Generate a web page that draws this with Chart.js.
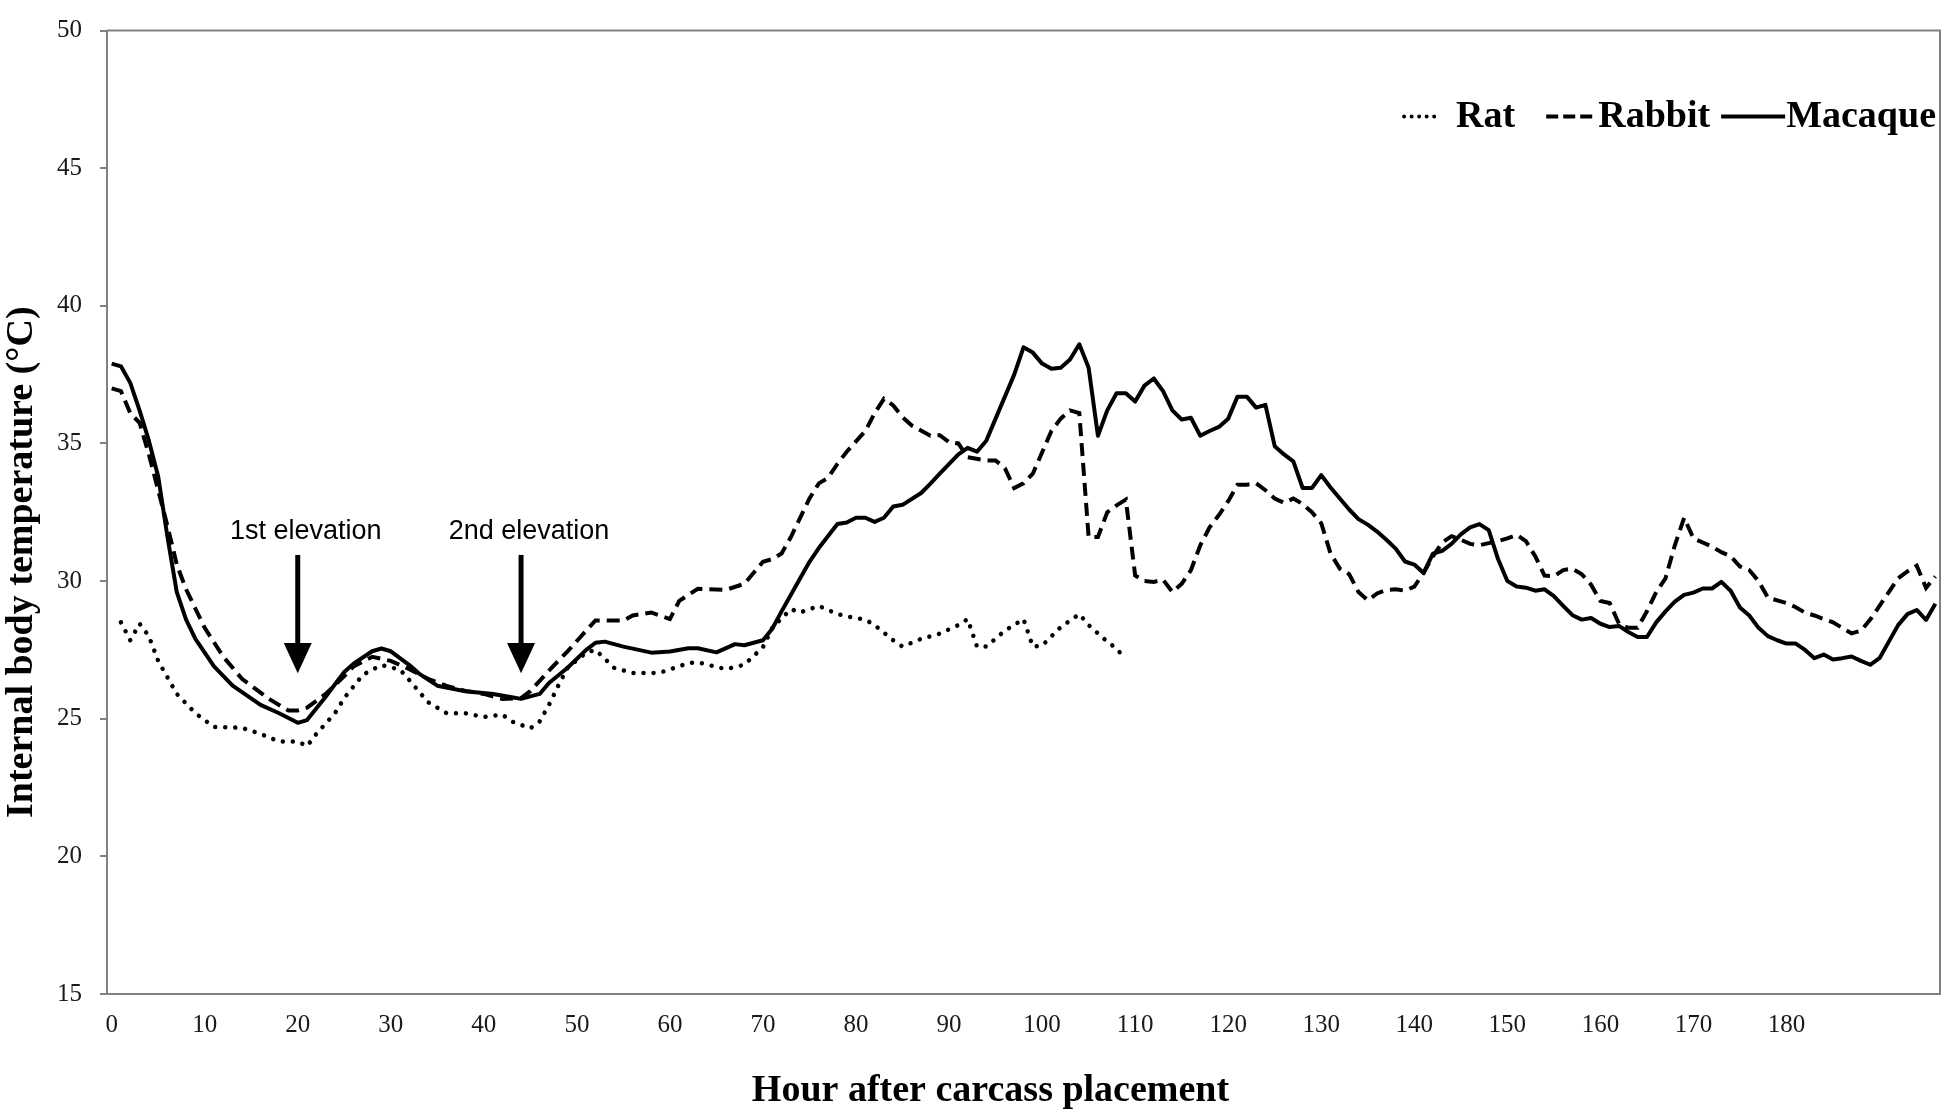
<!DOCTYPE html>
<html>
<head>
<meta charset="utf-8">
<title>Internal body temperature</title>
<script src="https://cdn.jsdelivr.net/npm/chart.js@4.4.1/dist/chart.umd.min.js"></script>
<style>
    html, body { margin: 0; padding: 0; background: #fff; }
    #wrap { width: 1946px; height: 1114px; }
</style>
</head>
<body>
<div id="wrap"><canvas id="temp-chart" width="1946" height="1114"></canvas></div>
<script>
'use strict';

// hours after carcass placement / internal temperature (°C)
const ratHours = [1, 2, 3, 4, 5, 6, 7, 9, 11, 14, 16, 18, 20, 21, 22, 24, 25,
    27, 29, 31, 32, 34, 36, 38, 40, 42, 43, 45, 46, 47, 48, 49, 51, 52, 54, 56, 58,
    59, 62, 63, 66, 68, 70, 71, 73, 74, 76, 78, 79, 81, 82, 84, 85, 87, 89, 91, 92,
    93, 94, 96, 98, 99, 100, 102, 104, 105, 107, 108, 109];
const ratTemps = [28.5, 27.85, 28.45, 28.0, 27.1, 26.5, 25.9, 25.2, 24.7, 24.67, 24.45, 24.17, 24.17, 24.0, 24.45, 25.2, 25.75,
    26.6, 26.95, 26.78, 26.4, 25.6, 25.2, 25.2, 25.06, 25.15, 24.9, 24.65, 24.9, 25.5, 26.2, 26.85, 27.4, 27.5, 26.85, 26.66, 26.66,
    26.68, 27.02, 27.05, 26.8, 26.96, 27.6, 28.3, 28.98, 28.86, 29.1, 28.8, 28.72, 28.6, 28.4, 27.85, 27.62, 27.9, 28.09, 28.4, 28.62,
    27.62, 27.62, 28.2, 28.62, 27.62, 27.65, 28.33, 28.8, 28.4, 27.8, 27.55, 27.14];

const rabbitHours = [0, 1, 2, 3, 4, 5, 6, 7, 8, 10, 12, 14, 17, 19, 20, 21, 23, 25, 26, 28,
    30, 32, 34, 36, 38, 40, 42, 44, 45, 47, 49, 51, 52, 55, 56, 58, 60, 61, 63, 66,
    68, 70, 71, 72, 73, 75, 76, 77, 78, 79, 81, 82, 83, 84, 85, 86, 88, 89, 90, 91,
    92, 94, 95, 96, 97, 98, 99, 101, 102, 103, 104, 105, 106, 107, 108, 109, 110, 111, 112, 113,
    114, 115, 116, 117, 118, 119, 120, 121, 122, 123, 124, 125, 126, 127, 128, 129, 130, 131, 132, 133,
    134, 135, 136, 137, 138, 139, 140, 141, 142, 143, 144, 145, 146, 147, 148, 149, 150, 151, 152, 153,
    154, 155, 156, 157, 158, 159, 160, 161, 162, 163, 164, 165, 166, 167, 168, 169, 170, 171, 172, 173,
    174, 175, 176, 177, 178, 179, 180, 181, 182, 183, 184, 185, 186, 187, 188, 189, 190, 191, 192, 193,
    194, 195, 196];
const rabbitTemps = [37.0, 36.9, 36.1, 35.75, 34.6, 33.3, 32.0, 30.6, 29.7, 28.3, 27.25, 26.45, 25.7, 25.3, 25.3, 25.4, 25.9, 26.55, 26.9, 27.25,
    27.1, 26.8, 26.45, 26.19, 26.01, 25.9, 25.72, 25.75, 26.0, 26.75, 27.45, 28.2, 28.57, 28.57, 28.75, 28.86, 28.62, 29.28, 29.72, 29.68,
    29.9, 30.7, 30.8, 31.0, 31.6, 33.0, 33.55, 33.75, 34.26, 34.7, 35.45, 36.1, 36.62, 36.38, 35.95, 35.65, 35.28, 35.3, 35.05, 35.0,
    34.5, 34.38, 34.38, 34.1, 33.38, 33.55, 33.9, 35.45, 35.9, 36.2, 36.1, 31.6, 31.6, 32.5, 32.75, 32.96, 30.2, 30.0, 29.97, 30.05,
    29.6, 29.9, 30.4, 31.3, 31.95, 32.4, 32.9, 33.5, 33.5, 33.55, 33.3, 33.0, 32.84, 33.0, 32.8, 32.5, 32.1, 31.0, 30.45, 30.25,
    29.6, 29.3, 29.55, 29.68, 29.7, 29.65, 29.8, 30.3, 30.9, 31.4, 31.63, 31.5, 31.35, 31.3, 31.38, 31.45, 31.55, 31.68, 31.45, 30.9,
    30.2, 30.17, 30.4, 30.45, 30.25, 29.87, 29.28, 29.2, 28.45, 28.3, 28.3, 28.9, 29.6, 30.1, 31.3, 32.3, 31.55, 31.4, 31.25, 31.05,
    30.9, 30.53, 30.4, 30.0, 29.4, 29.3, 29.2, 29.05, 28.85, 28.75, 28.62, 28.5, 28.3, 28.1, 28.2, 28.6, 29.1, 29.6, 30.1, 30.35,
    30.56, 29.75, 30.17];

const macaqueHours = [0, 1, 2, 3, 4, 5, 6, 7, 8, 9, 11, 13, 16, 18, 20, 21, 23, 25, 26, 28,
    29, 30, 32, 33, 35, 38, 41, 43, 44, 46, 47, 49, 51, 52, 53, 55, 58, 60, 62, 63,
    65, 67, 68, 70, 71, 72, 73, 74, 75, 76, 78, 79, 80, 81, 82, 83, 84, 85, 87, 88,
    89, 91, 92, 93, 94, 95, 97, 98, 99, 100, 101, 102, 103, 104, 105, 106, 107, 108, 109, 110,
    111, 112, 113, 114, 115, 116, 117, 118, 119, 120, 121, 122, 123, 124, 125, 126, 127, 128, 129, 130,
    131, 132, 133, 134, 135, 136, 137, 138, 139, 140, 141, 142, 143, 144, 145, 146, 147, 148, 149, 150,
    151, 152, 153, 154, 155, 156, 157, 158, 159, 160, 161, 162, 163, 164, 165, 166, 167, 168, 169, 170,
    171, 172, 173, 174, 175, 176, 177, 178, 179, 180, 181, 182, 183, 184, 185, 186, 187, 188, 189, 190,
    191, 192, 193, 194, 195, 196];
const macaqueTemps = [37.9, 37.8, 37.2, 36.2, 35.1, 33.8, 31.6, 29.6, 28.6, 27.9, 26.9, 26.2, 25.5, 25.2, 24.85, 24.95, 25.8, 26.7, 27.0, 27.45,
    27.55, 27.45, 26.95, 26.65, 26.2, 26.0, 25.9, 25.78, 25.72, 25.9, 26.3, 26.85, 27.5, 27.76, 27.8, 27.62, 27.4, 27.44, 27.56, 27.56,
    27.41, 27.71, 27.67, 27.85, 28.27, 28.9, 29.5, 30.1, 30.7, 31.2, 32.07, 32.13, 32.3, 32.3, 32.15, 32.3, 32.71, 32.77, 33.2, 33.54,
    33.9, 34.6, 34.84, 34.7, 35.1, 35.9, 37.5, 38.49, 38.3, 37.9, 37.71, 37.75, 38.05, 38.6, 37.75, 35.28, 36.2, 36.82, 36.82, 36.52,
    37.1, 37.36, 36.9, 36.2, 35.87, 35.93, 35.28, 35.45, 35.6, 35.9, 36.7, 36.7, 36.3, 36.4, 34.9, 34.6, 34.35, 33.38, 33.38, 33.85,
    33.4, 33.0, 32.6, 32.25, 32.05, 31.8, 31.5, 31.18, 30.71, 30.6, 30.29, 31.0, 31.1, 31.35, 31.7, 31.95, 32.07, 31.85, 30.8, 30.0,
    29.8, 29.76, 29.65, 29.7, 29.45, 29.1, 28.76, 28.6, 28.66, 28.45, 28.33, 28.37, 28.15, 27.97, 27.97, 28.5, 28.9, 29.25, 29.5, 29.58,
    29.73, 29.73, 29.97, 29.65, 29.04, 28.75, 28.3, 28.0, 27.85, 27.73, 27.73, 27.5, 27.2, 27.33, 27.15, 27.2, 27.26, 27.1, 26.96, 27.2,
    27.8, 28.4, 28.8, 28.95, 28.59, 29.18];

const xTickHours = [0, 10, 20, 30, 40, 50, 60, 70, 80, 90, 100, 110, 120, 130, 140, 150, 160, 170, 180];
const yTickValues = [15, 20, 25, 30, 35, 40, 45, 50];

const elevationLabels = ['1st elevation', '2nd elevation'];
const elevationHours = [20, 44];


function toPoints(hours, temps) {
    return hours.map((h, i) => ({ x: h, y: temps[i] }));
}

// titles, legend, frame and arrows drawn on top of the chart
const figureDecor = {
    id: 'figureDecor',
    afterDraw(chart) {
        const { ctx, chartArea: area } = chart;
        const xs = chart.scales.x;
        const ys = chart.scales.y;
        ctx.save();

        // frame (top + right)
        ctx.strokeStyle = '#808080';
        ctx.lineWidth = 2;
        ctx.setLineDash([]);
        ctx.beginPath();
        ctx.moveTo(area.left, area.top);
        ctx.lineTo(area.right, area.top);
        ctx.lineTo(area.right, area.bottom);
        ctx.stroke();

        // elevation arrows
        ctx.fillStyle = '#000';
        ctx.strokeStyle = '#000';
        elevationHours.forEach((hour, i) => {
            const px = xs.getPixelForValue(hour);
            const top = ys.getPixelForValue(30.95);
            const base = ys.getPixelForValue(27.75);
            const tip = ys.getPixelForValue(26.65);
            ctx.lineWidth = 5;
            ctx.beginPath();
            ctx.moveTo(px, top);
            ctx.lineTo(px, base + 2);
            ctx.stroke();
            ctx.beginPath();
            ctx.moveTo(px - 14, base);
            ctx.lineTo(px + 14, base);
            ctx.lineTo(px, tip);
            ctx.closePath();
            ctx.fill();

            ctx.font = '27px "Liberation Sans", Arial, sans-serif';
            ctx.textAlign = 'center';
            ctx.textBaseline = 'middle';
            ctx.fillText(elevationLabels[i], px + 8, ys.getPixelForValue(31.8));
        });

        // axis titles
        ctx.font = 'bold 38px "Liberation Serif", "Times New Roman", serif';
        ctx.textAlign = 'center';
        ctx.textBaseline = 'alphabetic';
        ctx.fillText('Hour after carcass placement', (area.left + area.right) / 2 - 33, chart.height - 13);

        ctx.save();
        ctx.translate(32, (area.top + area.bottom) / 2 + 50);
        ctx.rotate(-Math.PI / 2);
        ctx.fillText('Internal body temperature (°C)', 0, 0);
        ctx.restore();

        // legend, right aligned in the top right corner
        const sampleWidths = [34, 50, 64];
        const textGaps = [18, 2, 1];
        const itemGaps = [0, 31, 11];
        const baseY = area.top + 96;
        const lineY = baseY - 10;
        let cursor = area.right - 4;
        ctx.textAlign = 'right';
        for (let i = chart.data.datasets.length - 1; i >= 0; i--) {
            const ds = chart.data.datasets[i];
            ctx.fillStyle = '#000';
            ctx.fillText(ds.label, cursor, baseY);
            cursor -= ctx.measureText(ds.label).width + textGaps[i];

            ctx.strokeStyle = ds.borderColor;
            ctx.lineWidth = ds.legendLineWidth;
            ctx.lineCap = ds.borderCapStyle || 'butt';
            ctx.setLineDash(ds.legendDash);
            ctx.beginPath();
            ctx.moveTo(cursor - sampleWidths[i], lineY);
            ctx.lineTo(cursor, lineY);
            ctx.stroke();
            ctx.setLineDash([]);
            cursor -= sampleWidths[i] + itemGaps[i];
        }

        ctx.restore();
    }
};


function createChartTemperature() {
    const Chart = window.Chart;
    const ctx = document.getElementById('temp-chart').getContext('2d');
    const tickFont = { family: '"Liberation Serif", "Times New Roman", serif', size: 25, lineHeight: 1 };

    new Chart(ctx, {
        type: 'line',
        data: {
            datasets: [{
                label: 'Rat',
                data: toPoints(ratHours, ratTemps),
                borderColor: '#000',
                borderWidth: 4.5,
                borderDash: [0.01, 10],
                borderCapStyle: 'round',
                legendDash: [0.01, 7.5],
                legendLineWidth: 4
            }, {
                label: 'Rabbit',
                data: toPoints(rabbitHours, rabbitTemps),
                borderColor: '#000',
                borderWidth: 4,
                borderDash: [13, 7],
                legendDash: [12, 5],
                legendLineWidth: 4
            }, {
                label: 'Macaque',
                data: toPoints(macaqueHours, macaqueTemps),
                borderColor: '#000',
                borderWidth: 4,
                borderJoinStyle: 'round',
                legendDash: [],
                legendLineWidth: 4
            }]
        },
        options: {
            responsive: false,
            animation: false,
            layout: {
                padding: { top: 12, right: 6, left: 0, bottom: 0 }
            },
            elements: {
                point: { radius: 0 },
                line: { tension: 0, fill: false }
            },
            plugins: {
                legend: { display: false },
                tooltip: { enabled: false }
            },
            scales: {
                x: {
                    type: 'linear',
                    min: -0.5,
                    max: 196.5,
                    afterBuildTicks: (scale) => {
                        scale.ticks = xTickHours.map(v => ({ value: v }));
                    },
                    afterFit: (scale) => { scale.height = 120; },
                    grid: { display: false, drawTicks: false },
                    border: { color: '#808080', width: 2 },
                    ticks: {
                        padding: 19,
                        color: '#1a1a1a',
                        font: tickFont,
                        maxRotation: 0,
                        autoSkip: false
                    }
                },
                y: {
                    min: 15,
                    max: 50,
                    afterBuildTicks: (scale) => {
                        scale.ticks = yTickValues.map(v => ({ value: v }));
                    },
                    afterFit: (scale) => { scale.width = 107; },
                    grid: {
                        drawOnChartArea: false,
                        drawTicks: true,
                        tickLength: 7,
                        color: '#808080',
                        lineWidth: 2
                    },
                    border: { color: '#808080', width: 2 },
                    ticks: {
                        padding: 18,
                        color: '#1a1a1a',
                        font: tickFont
                    }
                }
            }
        },
        plugins: [figureDecor]
    });
}

createChartTemperature();
</script>
</body>
</html>
